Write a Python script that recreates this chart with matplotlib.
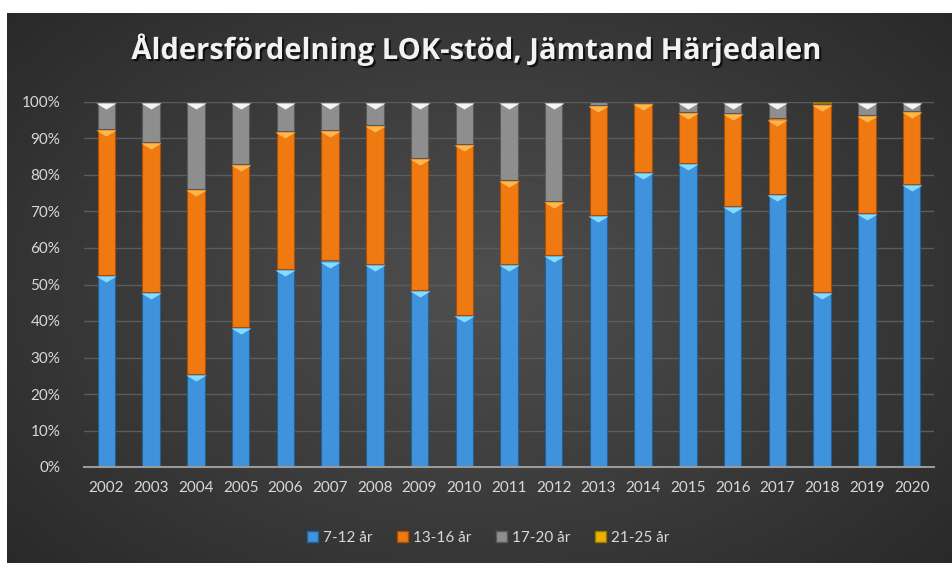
import numpy as np
from matplotlib import pyplot as plt
from matplotlib import patheffects as pe
from matplotlib.patches import Patch
from matplotlib.ticker import PercentFormatter

# Andel per åldersgrupp (%)
ar = ['2002', '2003', '2004', '2005', '2006', '2007', '2008', '2009', '2010', '2011',
      '2012', '2013', '2014', '2015', '2016', '2017', '2018', '2019', '2020']
ar_7_12 = [52.6, 48.0, 25.5, 38.4, 54.2, 56.6, 55.7, 48.5, 41.7, 55.6,
           58.0, 69.0, 80.9, 83.3, 71.5, 74.9, 47.9, 69.6, 77.5]
ar_13_16 = [40.0, 41.1, 50.7, 44.7, 37.9, 35.8, 38.0, 36.2, 46.7, 23.0,
            14.9, 30.2, 18.9, 14.0, 25.4, 20.6, 51.5, 26.8, 20.1]
ar_17_20 = [7.4, 10.9, 23.8, 16.9, 7.9, 7.6, 6.3, 15.3, 11.6, 21.4,
            27.1, 0.8, 0.2, 2.7, 3.1, 4.5, 0.4, 3.6, 2.4]
ar_21_25 = [0, 0, 0, 0, 0, 0, 0, 0, 0, 0,
            0, 0, 0, 0, 0, 0, 0.2, 0, 0]
grupper = ['7-12 år', '13-16 år', '17-20 år', '21-25 år']

farger = ['#3f92dc', '#f07a12', '#8e8e8e', '#e8b400']
kanter = ['#245f96', '#a84e05', '#5a5a5a', '#9a7600']
spetsar = ['#86dcff', '#ffb64a', '#f4f4f4', '#fff07a']

fig = plt.figure(figsize=(9.52, 5.63), dpi=100, facecolor='white')

# mörk bakgrund med radiell gradient
bg = fig.add_axes([7 / 952, 0, 945 / 952, 550 / 563])
yy, xx = np.mgrid[-1:1:300j, -1:1:500j]
r = np.sqrt((xx * 0.85) ** 2 + (yy * 0.75) ** 2)
gra = np.clip(0.31 - 0.13 * r, 0.14, 0.31)
bg.imshow(np.dstack([gra, gra, gra]), aspect='auto', extent=[0, 1, 0, 1])
bg.set_axis_off()

ax = fig.add_axes([84 / 952, 1 - 467 / 563, 850 / 952, 365 / 563])
ax.patch.set_alpha(0)

x = np.arange(len(ar))
serier = np.array([ar_7_12, ar_13_16, ar_17_20, ar_21_25], dtype=float)
serier = serier / serier.sum(axis=0) * 100
bredd = 0.39
botten = np.zeros(len(ar))
for i, varden in enumerate(serier):
    finns = varden > 0
    ax.bar(x[finns], varden[finns], bredd, bottom=botten[finns], color=farger[i],
           edgecolor=kanter[i], linewidth=0.8, zorder=3)
    topp = botten + varden
    synlig = varden > 1.5
    ax.scatter(x[synlig], topp[synlig] - 0.3, marker=[(-1, 0), (1, 0), (0, -0.6)], s=210,
               color=spetsar[i], linewidths=0, zorder=4)
    botten = topp

ax.set_xlim(-0.5, len(ar) - 0.5)
ax.set_ylim(0, 100)
ax.set_yticks(np.arange(0, 101, 10))
ax.yaxis.set_major_formatter(PercentFormatter(decimals=0))
ax.set_xticks(x)
ax.set_xticklabels(ar)
ax.grid(axis='y', color='#5c5c5c', linewidth=1, zorder=0)
for s in ['top', 'right', 'left']:
    ax.spines[s].set_visible(False)
ax.spines['bottom'].set_color('#9a9a9a')
ax.spines['bottom'].set_linewidth(1.5)
ax.spines['bottom'].set_zorder(5)
ax.tick_params(axis='both', length=0, colors='#d9d9d9', labelsize=11)
ax.tick_params(axis='x', pad=10)
ax.tick_params(axis='y', pad=17)
for t in ax.get_xticklabels() + ax.get_yticklabels():
    t.set_family('Lato')

fig.text(0.5, 1 - 50 / 563, 'Åldersfördelning LOK-stöd, Jämtand Härjedalen',
         ha='center', va='center', fontsize=21, fontweight='bold', family='Open Sans',
         color='#f2f2f2',
         path_effects=[pe.withSimplePatchShadow(offset=(1.5, -1.5), shadow_rgbFace='black', alpha=0.7)])

handtag = [Patch(facecolor=farger[i], edgecolor=kanter[i], label=grupper[i]) for i in range(4)]
leg = fig.legend(handles=handtag, loc='center', bbox_to_anchor=(488 / 952, 1 - 538 / 563),
                 ncol=4, frameon=False, handlelength=0.75, handleheight=0.75,
                 handletextpad=0.3, columnspacing=1.6, prop={'family': 'Lato', 'size': 11})
for t in leg.get_texts():
    t.set_color('#d9d9d9')

fig.savefig('out.png', dpi=100, facecolor='white')
